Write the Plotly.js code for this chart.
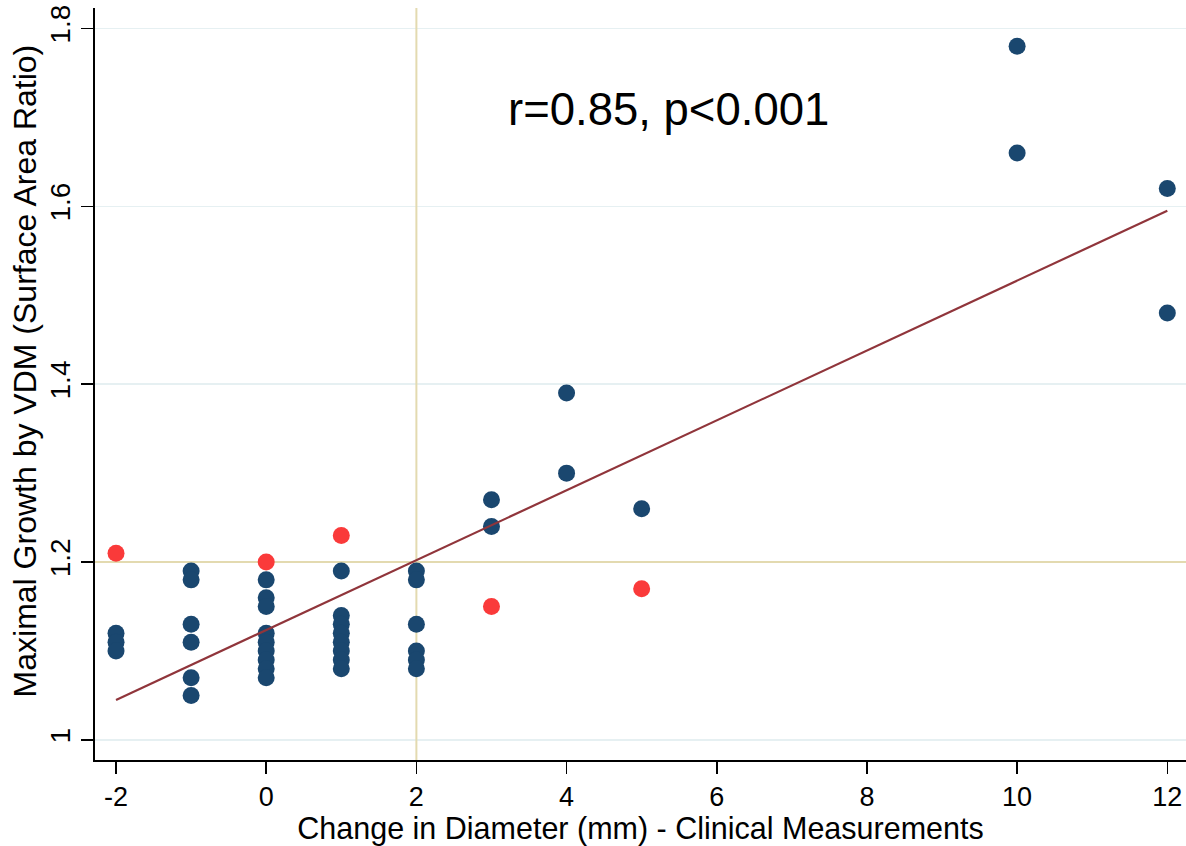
<!DOCTYPE html>
<html>
<head>
<meta charset="utf-8">
<script src="https://cdn.plot.ly/plotly-3.0.1.min.js"></script>
<style>
  html, body { margin: 0; padding: 0; background: #ffffff; }
  #chart { width: 1186px; height: 846px; }
</style>
</head>
<body>
<div id="chart"></div>
<script>
// Blue group (main points)
const blueX = [-2, -2, -2,
               -1, -1, -1, -1, -1, -1,
               0, 0, 0, 0, 0, 0, 0, 0, 0,
               1, 1, 1, 1, 1, 1, 1, 1,
               2, 2, 2, 2, 2, 2,
               3, 3,
               4, 4,
               5,
               10, 10,
               12, 12];
const blueY = [1.12, 1.11, 1.10,
               1.19, 1.18, 1.13, 1.11, 1.07, 1.05,
               1.18, 1.16, 1.15, 1.12, 1.11, 1.10, 1.09, 1.08, 1.07,
               1.19, 1.14, 1.13, 1.12, 1.11, 1.10, 1.09, 1.08,
               1.19, 1.18, 1.13, 1.10, 1.09, 1.08,
               1.27, 1.24,
               1.39, 1.30,
               1.26,
               1.78, 1.66,
               1.62, 1.48];

// Red group
const redX = [-2, 0, 1, 3, 5];
const redY = [1.21, 1.20, 1.23, 1.15, 1.17];

// Fitted line endpoints
const fitX = [-2, 12];
const fitY = [1.045, 1.595];

// Reference lines
const refX = 2;
const refY = 1.2;

// Axis ticks
const xTicks = [-2, 0, 2, 4, 6, 8, 10, 12];
const xTickText = ['-2', '0', '2', '4', '6', '8', '10', '12'];
const yTicks = [1, 1.2, 1.4, 1.6, 1.8];
const yTickText = ['1', '1.2', '1.4', '1.6', '1.8'];

const FONT = 'Liberation Sans, Arial, Helvetica, sans-serif';
const XR = [-2.28, 12.249];
const YR = [0.9775, 1.8229];

const traces = [
  {
    x: blueX, y: blueY, type: 'scatter', mode: 'markers',
    marker: { color: '#1a476f', size: 17, line: { width: 0 } },
    hoverinfo: 'x+y', showlegend: false
  },
  {
    x: redX, y: redY, type: 'scatter', mode: 'markers',
    marker: { color: '#fa3a3a', size: 17, line: { width: 0 } },
    hoverinfo: 'x+y', showlegend: false
  },
  {
    x: fitX, y: fitY, type: 'scatter', mode: 'lines',
    line: { color: '#90353b', width: 2.2 },
    hoverinfo: 'skip', showlegend: false
  }
];

const layout = {
  width: 1186, height: 846,
  margin: { l: 95, r: 0, t: 8, b: 86, pad: 0 },
  paper_bgcolor: '#ffffff', plot_bgcolor: '#ffffff',
  showlegend: false,
  font: { family: FONT, color: '#000000' },
  xaxis: {
    range: XR,
    tickvals: xTicks, ticktext: xTickText,
    ticks: 'outside', ticklen: 12, tickwidth: 1.5, tickcolor: '#000000',
    showline: true, linecolor: '#000000', linewidth: 2,
    showgrid: false, zeroline: false,
    tickfont: { family: FONT, size: 27, color: '#000000' },
    title: { text: 'Change in Diameter (mm) - Clinical Measurements',
             font: { family: FONT, size: 30.5, color: '#000000' }, standoff: 0 }
  },
  yaxis: {
    range: YR,
    tickvals: yTicks, ticktext: yTickText, tickangle: -90,
    ticks: 'outside', ticklen: 12, tickwidth: 1.5, tickcolor: '#000000',
    showline: true, linecolor: '#000000', linewidth: 2,
    showgrid: true, gridcolor: '#e6f0f2', gridwidth: 1.5,
    zeroline: false,
    tickfont: { family: FONT, size: 28, color: '#000000' },
    title: { text: '' }
  },
  shapes: [
    { type: 'line', layer: 'between', xref: 'x', yref: 'y',
      x0: refX, x1: refX, y0: YR[0], y1: YR[1],
      line: { color: '#e3dab0', width: 2 } },
    { type: 'line', layer: 'between', xref: 'x', yref: 'y',
      x0: XR[0], x1: XR[1], y0: refY, y1: refY,
      line: { color: '#e3dab0', width: 2 } }
  ],
  annotations: [
    { xref: 'x', yref: 'y', x: 5.36, y: 1.709, showarrow: false,
      text: 'r=0.85, p<0.001',
      font: { family: FONT, size: 45.5, color: '#000000' },
      xanchor: 'center', yanchor: 'middle' },
    { xref: 'paper', yref: 'paper', x: -0.064, y: 0.517, showarrow: false,
      text: 'Maximal Growth by VDM (Surface Area Ratio)', textangle: -90,
      font: { family: FONT, size: 32, color: '#000000' },
      xanchor: 'center', yanchor: 'middle' }
  ]
};

Plotly.newPlot('chart', traces, layout, { displayModeBar: false, staticPlot: true });
</script>
</body>
</html>
